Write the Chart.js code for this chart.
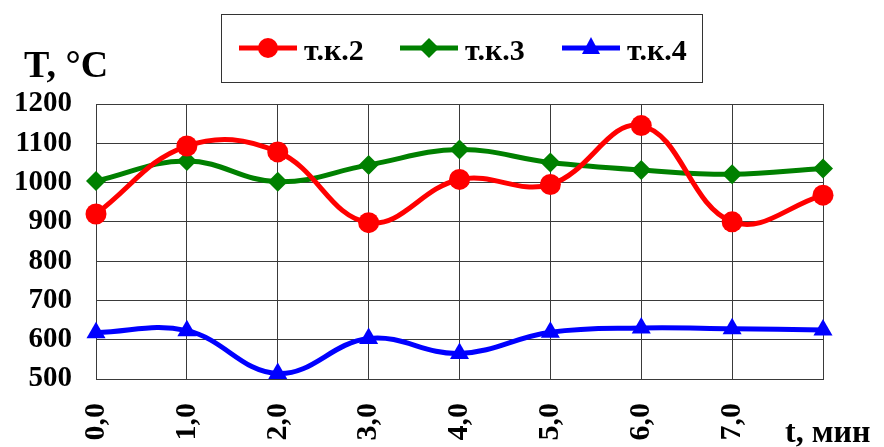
<!DOCTYPE html>
<html>
<head>
<meta charset="utf-8">
<script src="https://cdn.jsdelivr.net/npm/chart.js@4/dist/chart.umd.min.js"></script>
<style>
  html, body { margin: 0; padding: 0; background: #fff; }
  #wrap { position: relative; width: 884px; height: 447px; }
</style>
</head>
<body>
<div id="wrap"><canvas id="chartTemp"></canvas></div>
<script>
// --- data ---
const timeLabels = ['0,0', '1,0', '2,0', '3,0', '4,0', '5,0', '6,0', '7,0', ''];
const tk2Values  = [920, 1093, 1078, 898, 1008, 995, 1145, 900, 968];
const tk3Values  = [1004, 1055, 1002, 1045, 1084, 1051, 1032, 1021, 1036];
const tk4Values  = [618, 623, 514, 603, 565, 619, 630, 628, 625];
const seriesNames = ['т.к.2', 'т.к.3', 'т.к.4'];
const yTitle = 'T, °C';
const xTitle = 't, мин';

const SERIF  = '"Liberation Serif", "Times New Roman", serif';
const COLORS = ['#ff0000', '#008000', '#0000ff'];
const STYLES = ['circle', 'rectRot', 'triangle'];
const GRID   = '#3a3a3a';

function drawMarker(ctx, style, x, y, r) {
  ctx.beginPath();
  if (style === 'circle') {
    ctx.arc(x, y, r, 0, Math.PI * 2);
  } else if (style === 'rectRot') {
    ctx.moveTo(x - r, y); ctx.lineTo(x, y - r); ctx.lineTo(x + r, y); ctx.lineTo(x, y + r);
  } else {
    ctx.moveTo(x, y - r - 1); ctx.lineTo(x + r * 0.9, y + r * 0.6); ctx.lineTo(x - r * 0.9, y + r * 0.6);
  }
  ctx.closePath();
  ctx.fill();
}

const decorPlugin = {
  id: 'decor',
  afterDraw(chart) {
    const ctx = chart.ctx;
    ctx.save();

    // legend box
    ctx.strokeStyle = '#333';
    ctx.lineWidth = 1;
    ctx.strokeRect(221.5, 14.5, 481, 68);
    const itemX = [239, 400, 562];
    seriesNames.forEach((name, i) => {
      const x0 = itemX[i];
      ctx.strokeStyle = COLORS[i];
      ctx.fillStyle   = COLORS[i];
      ctx.lineWidth = 5;
      ctx.beginPath();
      ctx.moveTo(x0, 48); ctx.lineTo(x0 + 58, 48);
      ctx.stroke();
      drawMarker(ctx, STYLES[i], x0 + 29, 48, 10);
      ctx.fillStyle = '#000';
      ctx.font = `bold 30px ${SERIF}`;
      ctx.textBaseline = 'alphabetic';
      ctx.textAlign = 'left';
      ctx.fillText(name, x0 + 65, 60);
    });

    // axis titles
    ctx.fillStyle = '#000';
    ctx.font = `bold 38px ${SERIF}`;
    ctx.fillText(yTitle, 24, 77);
    ctx.font = `bold 32px ${SERIF}`;
    ctx.fillText(xTitle, 785, 442);
    ctx.restore();
  }
};

const mkDataset = (label, data, i, radius) => ({
  label, data,
  borderColor: COLORS[i], backgroundColor: COLORS[i],
  borderWidth: 5, tension: 0.4,
  pointStyle: STYLES[i], pointRadius: radius, pointHoverRadius: radius,
  pointBorderWidth: 0, clip: false,
});

new Chart(document.getElementById('chartTemp').getContext('2d'), {
  type: 'line',
  data: {
    labels: timeLabels,
    datasets: [
      mkDataset(seriesNames[0], tk2Values, 0, 10.5),
      mkDataset(seriesNames[1], tk3Values, 1, 10),
      mkDataset(seriesNames[2], tk4Values, 2, 11),
    ],
  },
  options: {
    responsive: true, maintainAspectRatio: false, animation: false,
    layout: { padding: { top: 104, right: 61, left: 0, bottom: 0 } },
    plugins: { legend: { display: false }, tooltip: { enabled: false } },
    scales: {
      x: {
        offset: false,
        grid: { color: GRID, lineWidth: 1, drawTicks: false },
        border: { color: GRID },
        ticks: {
          autoSkip: false, minRotation: 90, maxRotation: 90, padding: 24,
          color: '#000', font: { family: SERIF, size: 30, weight: 'bold' },
        },
        afterFit: s => { s.height = 68; },
      },
      y: {
        min: 500, max: 1200,
        grid: { color: GRID, lineWidth: 1, drawTicks: false },
        border: { color: GRID },
        ticks: {
          stepSize: 100, padding: 24,
          callback: v => String(v),
          color: '#000', font: { family: SERIF, size: 29, weight: 'bold' },
        },
        afterFit: s => { s.width = 96; },
      },
    },
  },
  plugins: [decorPlugin],
});
</script>
</body>
</html>
